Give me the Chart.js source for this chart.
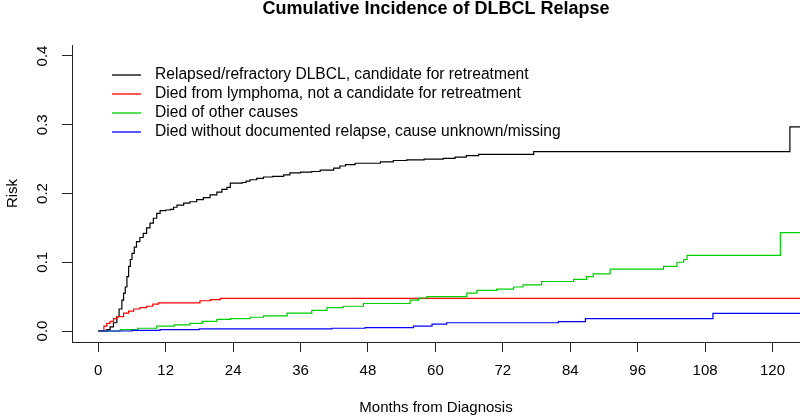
<!DOCTYPE html>
<html>
<head>
<meta charset="utf-8">
<title>Cumulative Incidence of DLBCL Relapse</title>
<script src="https://cdn.jsdelivr.net/npm/chart.js@4/dist/chart.umd.min.js"></script>
<style>
  html, body { margin: 0; padding: 0; background: #fff; }
  canvas { display: block; }
</style>
</head>
<body>
<canvas id="chart" width="800" height="417"></canvas>
<script>
// series names + colours (R palette 1..4)
const seriesLabels = [
  "Relapsed/refractory DLBCL, candidate for retreatment",
  "Died from lymphoma, not a candidate for retreatment",
  "Died of other causes",
  "Died without documented relapse, cause unknown/missing"
];
const seriesColors = ["#000000", "#FF0000", "#00CD00", "#0000FF"];

// step functions: month where the risk jumps, and the new risk value
const relapseMonths = [0, 0.9, 1.5, 2.1, 2.7, 3.3, 3.7, 4.2, 4.5, 4.8, 5.1, 5.4, 5.7, 6.0, 6.4, 6.8, 7.4, 8.0, 8.6, 9.2, 9.8, 10.4, 11.0, 12.0, 12.8, 13.4, 14.0, 15.2, 16.3, 17.5, 18.7, 19.9, 21.1, 22.0, 22.9, 23.5, 25.6, 26.3, 27.0, 28.2, 29.4, 31.0, 33.0, 34.1, 36.0, 38.0, 39.5, 41.9, 43.0, 44.0, 45.7, 50.2, 52.5, 54.9, 58.0, 61.4, 63.5, 65.5, 67.7, 77.5, 123.1, 126];
const relapseRisk = [0, 0, 0.002, 0.006, 0.012, 0.021, 0.032, 0.045, 0.055, 0.064, 0.079, 0.094, 0.104, 0.113, 0.122, 0.130, 0.136, 0.142, 0.150, 0.157, 0.164, 0.171, 0.175, 0.176, 0.177, 0.180, 0.183, 0.186, 0.188, 0.191, 0.194, 0.198, 0.202, 0.206, 0.209, 0.215, 0.216, 0.218, 0.220, 0.222, 0.224, 0.225, 0.227, 0.230, 0.231, 0.232, 0.234, 0.237, 0.240, 0.242, 0.244, 0.246, 0.248, 0.249, 0.250, 0.251, 0.253, 0.255, 0.257, 0.261, 0.297, 0.297];

const lymphomaMonths = [0, 0.8, 1.0, 1.5, 2.1, 2.7, 3.3, 4.5, 5.4, 6.3, 7.4, 8.6, 9.7, 10.7, 18.1, 20.0, 21.7, 126];
const lymphomaRisk = [0, 0, 0.007, 0.011, 0.014, 0.018, 0.021, 0.026, 0.029, 0.032, 0.034, 0.036, 0.039, 0.041, 0.044, 0.0455, 0.0476, 0.0476];

const otherMonths = [0, 3.9, 7.0, 10.4, 13.5, 16.3, 18.5, 21.1, 23.5, 27.0, 29.4, 33.6, 38.0, 40.7, 43.6, 47.2, 55.5, 57.0, 58.5, 65.6, 67.4, 70.9, 73.9, 75.6, 78.9, 84.6, 86.9, 88.1, 91.1, 100.6, 103.0, 104.2, 104.8, 121.4, 126];
const otherRisk = [0, 0.002, 0.004, 0.007, 0.009, 0.011, 0.014, 0.017, 0.018, 0.020, 0.022, 0.026, 0.030, 0.034, 0.036, 0.040, 0.045, 0.048, 0.050, 0.055, 0.059, 0.061, 0.064, 0.067, 0.072, 0.075, 0.079, 0.083, 0.090, 0.094, 0.100, 0.104, 0.110, 0.143, 0.143];

const unknownMonths = [0, 6.0, 11.0, 18.0, 41.6, 47.5, 56.1, 59.4, 62.0, 81.9, 86.7, 109.4, 126];
const unknownRisk = [0, 0.001, 0.002, 0.003, 0.004, 0.005, 0.007, 0.010, 0.012, 0.0135, 0.018, 0.0257, 0.0257];

const xTicks = [0, 12, 24, 36, 48, 60, 72, 84, 96, 108, 120];
const yTicks = [0, 0.1, 0.2, 0.3, 0.4];

const FONT = '"Liberation Sans", Arial, sans-serif';

const toPoints = (xs, ys) => xs.map((x, i) => ({ x: x, y: ys[i] }));

const seriesData = [
  toPoints(relapseMonths, relapseRisk),
  toPoints(lymphomaMonths, lymphomaRisk),
  toPoints(otherMonths, otherRisk),
  toPoints(unknownMonths, unknownRisk)
];

// legend sits inside the plot like R's legend("topleft")
const insideLegend = {
  id: "insideLegend",
  afterDraw(chart) {
    const { ctx, chartArea } = chart;
    ctx.save();
    ctx.font = "15.6px " + FONT;
    ctx.textBaseline = "middle";
    ctx.textAlign = "left";
    chart.data.datasets.forEach((ds, i) => {
      const y = chartArea.top + 30 + i * 19;
      ctx.strokeStyle = ds.borderColor;
      ctx.lineWidth = 1.3;
      ctx.beginPath();
      ctx.moveTo(chartArea.left + 40, y);
      ctx.lineTo(chartArea.left + 69, y);
      ctx.stroke();
      ctx.fillStyle = "#000";
      ctx.fillText(ds.label, chartArea.left + 83, y);
    });
    ctx.restore();
  }
};

new Chart(document.getElementById("chart"), {
  type: "line",
  data: {
    datasets: seriesData.map((pts, i) => ({
      label: seriesLabels[i],
      data: pts,
      borderColor: seriesColors[i],
      borderWidth: 1.2,
      pointRadius: 0,
      stepped: true,
      fill: false,
      order: 3 - i
    }))
  },
  options: {
    responsive: false,
    animation: false,
    layout: { padding: 0 },
    plugins: {
      legend: { display: false },
      tooltip: { enabled: false },
      title: {
        display: true,
        text: "Cumulative Incidence of DLBCL Relapse",
        color: "#000",
        fullSize: false,
        font: { family: FONT, size: 18, weight: "bold", lineHeight: 1 },
        padding: { top: 0, bottom: 27 }
      }
    },
    scales: {
      x: {
        type: "linear",
        min: -4.68,
        max: 124.9,
        afterBuildTicks: s => { s.ticks = xTicks.map(v => ({ value: v })); },
        afterFit: s => { s.height = 75; },
        grid: { drawOnChartArea: false, tickLength: 10, tickColor: "#222" },
        border: { color: "#222", width: 1 },
        ticks: { color: "#000", padding: 10, font: { family: FONT, size: 15 } },
        title: {
          display: true,
          text: "Months from Diagnosis",
          color: "#000",
          font: { family: FONT, size: 15 },
          padding: { top: 0, bottom: 0 }
        }
      },
      y: {
        type: "linear",
        min: -0.016,
        max: 0.416,
        afterBuildTicks: s => { s.ticks = yTicks.map(v => ({ value: v })); },
        afterFit: s => { s.width = 72; },
        grid: { drawOnChartArea: false, tickLength: 10, tickColor: "#222" },
        border: { color: "#222", width: 1 },
        ticks: {
          color: "#000",
          padding: 8.6,
          minRotation: 90,
          maxRotation: 90,
          crossAlign: "center",
          font: { family: FONT, size: 15 },
          callback: v => v.toFixed(1)
        },
        title: {
          display: true,
          text: "Risk",
          color: "#000",
          font: { family: FONT, size: 15 },
          padding: { top: 3.6, bottom: 0 }
        }
      }
    }
  },
  plugins: [insideLegend]
});
</script>
</body>
</html>
